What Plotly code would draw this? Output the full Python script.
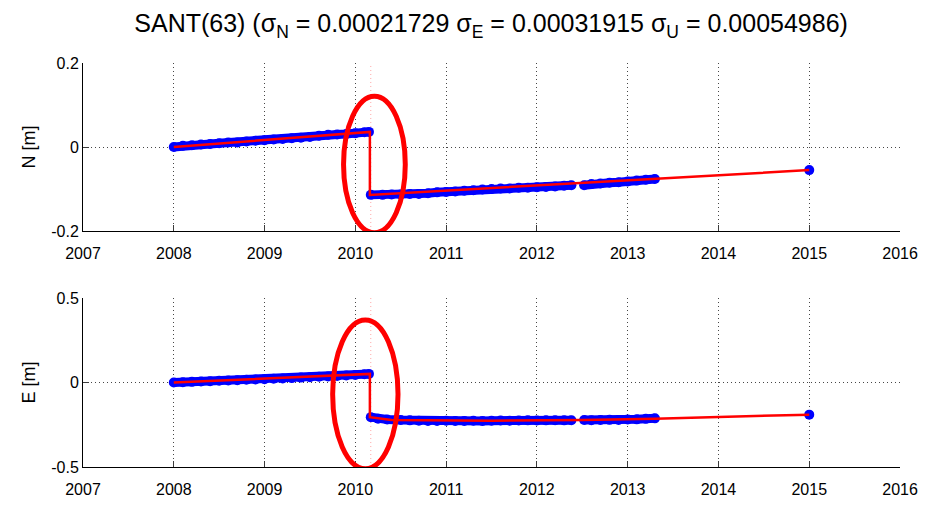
import plotly.graph_objects as go

# ---- observed daily-solution samples (decimal year, metres) ----
# None separates data gaps and the pre/post-offset segments
t_north = [2008.0, 2008.1, 2008.2, 2008.3, 2008.4, 2008.5, 2008.6, 2008.7, 2008.8, 2008.9,
           2009.0, 2009.1, 2009.2, 2009.3, 2009.4, 2009.5, 2009.6, 2009.7, 2009.8, 2009.9,
           2010.0, 2010.1, 2010.15, None, 2010.17, 2010.3, 2010.4, 2010.5, 2010.6, 2010.7, 2010.8,
           2010.9, 2011.0, 2011.1, 2011.2, 2011.3, 2011.4, 2011.5, 2011.6, 2011.7, 2011.8,
           2011.9, 2012.0, 2012.1, 2012.2, 2012.3, 2012.38, None, 2012.52, 2012.6, 2012.7,
           2012.8, 2012.9, 2013.0, 2013.1, 2013.2, 2013.3, None, 2015.0]
north = [0.000, 0.003, 0.004, 0.006, 0.007, 0.009, 0.011, 0.011, 0.013, 0.015,
         0.016, 0.018, 0.019, 0.021, 0.022, 0.024, 0.027, 0.029, 0.030, 0.031,
         0.033, 0.035, 0.036, None, -0.114, -0.114, -0.113, -0.113, -0.112, -0.112, -0.110,
         -0.108, -0.107, -0.106, -0.104, -0.103, -0.101, -0.100, -0.099, -0.099, -0.097,
         -0.097, -0.096, -0.095, -0.094, -0.092, -0.091, None, -0.091, -0.088, -0.087,
         -0.085, -0.084, -0.082, -0.080, -0.078, -0.076, None, -0.055]

t_east = [2008.0, 2008.1, 2008.2, 2008.3, 2008.4, 2008.5, 2008.6, 2008.7, 2008.8, 2008.9,
          2009.0, 2009.1, 2009.2, 2009.3, 2009.4, 2009.5, 2009.6, 2009.7, 2009.8, 2009.9,
          2010.0, 2010.1, 2010.15, None, 2010.17, 2010.25, 2010.35, 2010.5, 2010.6, 2010.7, 2010.8,
          2010.9, 2011.0, 2011.1, 2011.2, 2011.3, 2011.4, 2011.5, 2011.6, 2011.7, 2011.8,
          2011.9, 2012.0, 2012.1, 2012.2, 2012.3, 2012.38, None, 2012.52, 2012.6, 2012.7,
          2012.8, 2012.9, 2013.0, 2013.1, 2013.2, 2013.3, None, 2015.0]
east = [0.000, 0.002, 0.004, 0.006, 0.008, 0.010, 0.012, 0.014, 0.016, 0.018,
        0.020, 0.022, 0.024, 0.026, 0.029, 0.031, 0.034, 0.036, 0.039, 0.042,
        0.045, 0.049, 0.051, None, -0.205, -0.214, -0.219, -0.222, -0.224, -0.226, -0.227,
        -0.227, -0.226, -0.228, -0.227, -0.226, -0.227, -0.226, -0.225, -0.226, -0.225,
        -0.224, -0.225, -0.224, -0.223, -0.224, -0.223, None, -0.222, -0.223, -0.222,
        -0.221, -0.222, -0.219, -0.218, -0.215, -0.212, None, -0.190]

# ---- fitted trajectory model ----
t_model_north = [2008.0, 2010.16, 2010.16, 2015.0]
model_north = [0.000, 0.036, -0.114, -0.055]
t_model_east = [2008.0, 2010.16, 2010.16, 2010.4, 2011.5, 2012.5, 2013.3, 2015.0]
model_east = [0.000, 0.051, -0.205, -0.222, -0.226, -0.222, -0.214, -0.190]

jump_epoch = 2010.16

x_ticks = [2007, 2008, 2009, 2010, 2011, 2012, 2013, 2014, 2015, 2016]

FONT = "Liberation Sans"
BLUE = "rgb(0,0,255)"
RED = "rgb(255,0,0)"

fig = go.Figure()

for t, v, tm, vm, ax in [(t_north, north, t_model_north, model_north, ""),
                         (t_east, east, t_model_east, model_east, "2")]:
    fig.add_trace(go.Scatter(
        x=t, y=v, mode="lines+markers", xaxis="x" + ax, yaxis="y" + ax,
        line=dict(color=BLUE, width=9), marker=dict(color=BLUE, size=10),
        connectgaps=False, showlegend=False, hoverinfo="skip"))
    fig.add_trace(go.Scatter(
        x=tm, y=vm, mode="lines", xaxis="x" + ax, yaxis="y" + ax,
        line=dict(color=RED, width=2.5), showlegend=False, hoverinfo="skip"))

axis_common = dict(
    showline=True, linecolor="black", linewidth=1, mirror=False,
    ticks="inside", tickcolor="rgb(60,60,60)", ticklen=6,
    showgrid=True, gridcolor="rgb(70,70,70)", griddash="1px,3px", gridwidth=1,
    zeroline=False, automargin=False,
    tickfont=dict(family=FONT, size=16, color="black"),
)

fig.update_layout(
    width=939, height=505,
    paper_bgcolor="white", plot_bgcolor="white",
    margin=dict(l=0, r=0, t=0, b=0, autoexpand=False),
    title=dict(
        text="SANT(63) (σ<sub>N</sub> = 0.00021729 σ<sub>E</sub> = 0.00031915 σ<sub>U</sub> = 0.00054986)",
        x=0.523, xanchor="center", y=0.953, yanchor="middle",
        font=dict(family=FONT, size=25, color="black")),
    xaxis=dict(domain=[0.0884, 0.9585], range=[2007, 2016], tickvals=x_ticks,
               anchor="y", ticklabelstandoff=8, **axis_common),
    yaxis=dict(domain=[0.5426, 0.8752], range=[-0.2, 0.2], tickvals=[-0.2, 0, 0.2],
               ticktext=["-0.2", "0", "0.2"], anchor="x",
               title=dict(text="N [m]", font=dict(family=FONT, size=18, color="black"), standoff=10),
               **axis_common),
    xaxis2=dict(domain=[0.0884, 0.9585], range=[2007, 2016], tickvals=x_ticks,
                anchor="y2", ticklabelstandoff=8, **axis_common),
    yaxis2=dict(domain=[0.0752, 0.4099], range=[-0.5, 0.5], tickvals=[-0.5, 0, 0.5],
                ticktext=["-0.5", "0", "0.5"], anchor="x2",
                title=dict(text="E [m]", font=dict(family=FONT, size=18, color="black"), standoff=10),
                **axis_common),
)

# epoch of the offset: faint dotted marker line in each panel
for ax in ["", "2"]:
    fig.add_shape(type="line", xref="x" + ax, yref="y" + ax + " domain",
                  x0=jump_epoch + 0.01, x1=jump_epoch + 0.01, y0=0, y1=1,
                  line=dict(color="rgba(255,80,80,0.5)", width=1, dash="1px,3px"), layer="below")

# red ellipses highlighting the offset
fig.add_shape(type="circle", xref="x", yref="y",
              x0=2009.87, x1=2010.55, y0=-0.204, y1=0.121,
              line=dict(color=RED, width=5))
fig.add_shape(type="circle", xref="x2", yref="y2",
              x0=2009.75, x1=2010.47, y0=-0.51, y1=0.37,
              line=dict(color=RED, width=5))

fig.write_html("out.html")
